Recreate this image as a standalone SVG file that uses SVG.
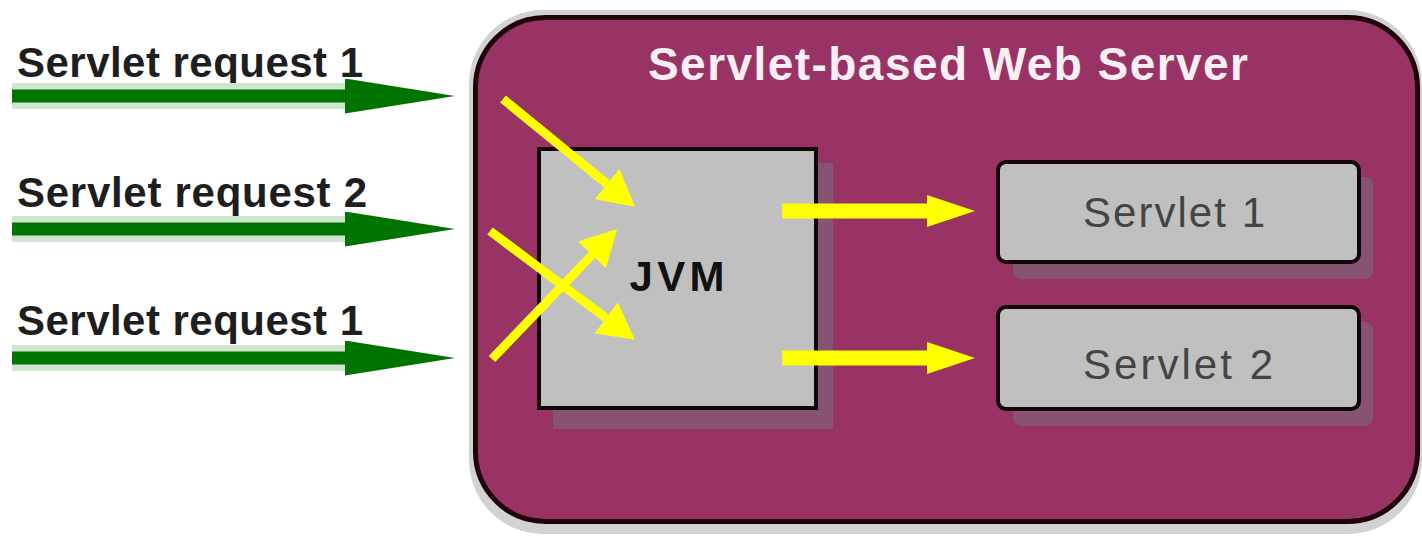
<svg xmlns="http://www.w3.org/2000/svg" width="1422" height="536" viewBox="0 0 1422 536">
  <style>
    .lbl { font-family: "Liberation Sans", Arial, sans-serif; font-weight: bold; font-size: 42px; fill: #1e1e1e; }
    .title { font-family: "Liberation Sans", Arial, sans-serif; font-weight: bold; font-size: 46px; fill: #fbeef4; }
    .jvm { font-family: "Liberation Sans", Arial, sans-serif; font-weight: bold; font-size: 42px; fill: #111; }
    .svt { font-family: "Liberation Sans", Arial, sans-serif; font-size: 42px; fill: #444444; }
    .box { fill: #c0c0c0; stroke: #120608; stroke-width: 4; }
    .shadow { fill: #875373; }
    .green { stroke: #007400; stroke-width: 13; fill: none; }
    .halo { stroke: #cfe5cf; stroke-width: 26; fill: none; }
    .ylw { stroke: #ffff00; fill: none; }
  </style>
  <defs>
    <marker id="gHead" markerUnits="userSpaceOnUse" markerWidth="110" markerHeight="35" refX="0" refY="17.5" orient="auto">
      <path d="M0,0 L110,17.5 L0,35 z" fill="#007400"/>
    </marker>
    <marker id="yHeadH" markerUnits="userSpaceOnUse" markerWidth="48" markerHeight="32" refX="0" refY="16" orient="auto">
      <path d="M0,0 L48,16 L0,32 z" fill="#ffff00"/>
    </marker>
    <marker id="yHeadD" markerUnits="userSpaceOnUse" markerWidth="36" markerHeight="39" refX="0" refY="19.5" orient="auto">
      <path d="M0,0 L36,19.5 L0,39 z" fill="#ffff00"/>
    </marker>
  </defs>

  <rect width="1422" height="536" fill="#ffffff"/>

  <g id="web-server">
    <rect x="469" y="10" width="953" height="524" rx="74" fill="#d2d2d2"/>
    <rect x="475.5" y="17.5" width="942" height="504" rx="70" fill="#993366" stroke="#200008" stroke-width="5"/>
    <text class="title" x="948" y="80" text-anchor="middle" textLength="600" lengthAdjust="spacing">Servlet-based Web Server</text>
  </g>

  <g id="jvm">
    <rect class="shadow" x="553" y="163" width="280" height="266"/>
    <rect class="box" x="539" y="149" width="277" height="259"/>
    <text class="jvm" x="677" y="291" text-anchor="middle" textLength="95" lengthAdjust="spacing">JVM</text>
  </g>

  <g id="servlet1">
    <rect class="shadow" x="1013" y="177" width="360" height="102" rx="8"/>
    <rect class="box" x="998" y="162" width="361" height="100" rx="8"/>
    <text class="svt" x="1174" y="227" text-anchor="middle" textLength="182" lengthAdjust="spacing">Servlet 1</text>
  </g>

  <g id="servlet2">
    <rect class="shadow" x="1013" y="322" width="360" height="104" rx="8"/>
    <rect class="box" x="998" y="307" width="361" height="102" rx="8"/>
    <text class="svt" x="1178" y="379" text-anchor="middle" textLength="190" lengthAdjust="spacing">Servlet 2</text>
  </g>

  <g id="request-labels">
    <text class="lbl" x="17" y="77" textLength="346" lengthAdjust="spacing">Servlet request 1</text>
    <text class="lbl" x="17" y="207" textLength="350" lengthAdjust="spacing">Servlet request 2</text>
    <text class="lbl" x="17" y="335" textLength="346" lengthAdjust="spacing">Servlet request 1</text>
  </g>

  <g id="connectors">
    <line class="halo" x1="12" y1="96" x2="345" y2="96"/>
    <line class="halo" x1="12" y1="229" x2="345" y2="229"/>
    <line class="halo" x1="12" y1="358" x2="345" y2="358"/>
    <line class="green" x1="12" y1="96" x2="345" y2="96" marker-end="url(#gHead)"/>
    <line class="green" x1="12" y1="229" x2="345" y2="229" marker-end="url(#gHead)"/>
    <line class="green" x1="12" y1="358" x2="345" y2="358" marker-end="url(#gHead)"/>

    <line class="ylw" stroke-width="9" x1="503" y1="99" x2="607" y2="184" marker-end="url(#yHeadD)"/>
    <line class="ylw" stroke-width="9" x1="490" y1="231" x2="606" y2="318" marker-end="url(#yHeadD)"/>
    <line class="ylw" stroke-width="9" x1="492" y1="359" x2="592" y2="255" marker-end="url(#yHeadD)"/>

    <line class="ylw" stroke-width="15" x1="782" y1="211" x2="927" y2="211" marker-end="url(#yHeadH)"/>
    <line class="ylw" stroke-width="15" x1="782" y1="358" x2="927" y2="358" marker-end="url(#yHeadH)"/>
  </g>
</svg>
